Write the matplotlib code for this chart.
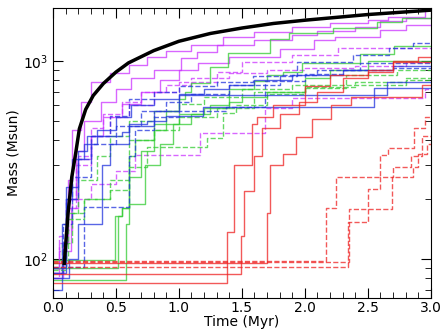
import matplotlib
matplotlib.use("Agg")
import matplotlib.pyplot as plt
from matplotlib.ticker import MultipleLocator

# smooth analytic curve (black)
t_curve = [0.09, 0.12, 0.15, 0.18, 0.21, 0.26, 0.32, 0.4, 0.5, 0.6, 0.8, 1.0, 1.25, 1.5, 1.75, 2.0, 2.5, 3.0]
m_curve = [95, 170, 260, 340, 455, 570, 670, 770, 880, 980, 1130, 1260, 1380, 1470, 1550, 1610, 1720, 1810]

# magenta runs
ms1_t = [0, 0.08, 0.12, 0.15, 0.22, 0.3, 0.45, 0.6, 0.75, 0.9, 1.1, 1.35, 1.6, 1.9, 2.2, 2.5, 2.66, 2.95, 3.0]
ms1_m = [90, 120, 250, 450, 620, 780, 870, 960, 1050, 1120, 1200, 1320, 1400, 1480, 1560, 1620, 1670, 1850, 1850]
ms2_t = [0, 0.08, 0.12, 0.18, 0.25, 0.38, 0.5, 0.62, 0.8, 1.02, 1.14, 1.3, 1.6, 1.9, 2.1, 2.4, 2.6, 2.8, 3.0]
ms2_m = [85, 120, 200, 350, 500, 620, 720, 820, 900, 1035, 1110, 1200, 1280, 1350, 1420, 1480, 1590, 1650, 1650]
ms3_t = [0, 0.08, 0.14, 0.2, 0.3, 0.4, 0.55, 0.7, 0.85, 1.0, 1.15, 1.4, 1.8, 2.07, 2.24, 2.6, 2.8, 3.0]
ms3_m = [80, 110, 180, 320, 420, 520, 610, 700, 800, 900, 977, 1050, 1150, 1276, 1320, 1430, 1520, 1520]
md1_t = [0, 0.05, 0.1, 0.18, 0.3, 0.45, 0.6, 0.8, 1.0, 1.3, 1.5, 1.9, 2.26, 3.0]
md1_m = [90, 130, 180, 300, 420, 520, 600, 700, 780, 880, 990, 1072, 1163, 1163]
md2_t = [0, 0.05, 0.1, 0.15, 0.3, 0.5, 0.65, 1.17, 1.68, 1.9, 2.95, 3.0]
md2_m = [80, 110, 140, 200, 240, 280, 335, 433, 580, 650, 720, 720]
md3_t = [0, 0.05, 0.1, 0.2, 0.3, 0.4, 0.55, 0.7, 0.9, 1.1, 1.4, 1.7, 2.0, 2.4, 2.8, 3.0]
md3_m = [85, 120, 200, 330, 460, 540, 620, 700, 760, 820, 870, 900, 920, 950, 990, 990]

# green runs
gs1_t = [0, 0.52, 0.55, 0.6, 0.7, 0.8, 0.9, 1.0, 1.05, 1.1, 1.25, 1.39, 1.72, 1.87, 2.22, 2.57, 2.77, 3.0]
gs1_m = [90, 164, 180, 260, 350, 450, 560, 640, 700, 775, 930, 1100, 1300, 1385, 1470, 1570, 1650, 1650]
gs2_t = [0, 0.58, 0.6, 0.73, 0.85, 0.95, 1.1, 1.25, 1.4, 1.6, 1.7, 1.83, 1.98, 2.44, 2.71, 3.0]
gs2_m = [78, 150, 190, 300, 380, 480, 540, 600, 720, 790, 850, 880, 976, 1085, 1190, 1190]
gs3_t = [0, 0.49, 0.55, 0.6, 0.65, 0.8, 1.0, 1.2, 1.4, 1.5, 1.7, 2.0, 2.2, 2.5, 3.0]
gs3_m = [99, 164, 180, 330, 400, 480, 540, 580, 620, 660, 700, 820, 900, 1000, 1000]
gd1_t = [0, 0.1, 0.2, 0.35, 0.45, 0.6, 0.8, 1.0, 1.2, 1.5, 1.9, 2.33, 2.73, 3.0]
gd1_m = [88, 170, 250, 330, 420, 500, 560, 610, 660, 720, 757, 850, 900, 900]
gd2_t = [0, 0.12, 0.25, 0.45, 0.6, 0.8, 1.0, 1.3, 1.6, 2.0, 2.33, 2.8, 3.0]
gd2_m = [95, 160, 200, 250, 400, 450, 520, 580, 700, 730, 760, 820, 820]
gd3_t = [0, 0.07, 0.15, 0.25, 0.45, 0.6, 0.75, 1.22, 1.35, 1.45, 1.7, 2.0, 2.4, 2.8, 3.0]
gd3_m = [90, 120, 170, 200, 223, 290, 368, 408, 546, 600, 680, 740, 780, 800, 800]

# blue runs
bs1_t = [0, 0.07, 0.1, 0.2, 0.27, 0.55, 0.6, 0.75, 0.9, 1.19, 2.55, 3.0]
bs1_m = [70, 150, 230, 350, 420, 440, 480, 500, 530, 586, 730, 730]
bs2_t = [0, 0.13, 0.2, 0.39, 0.45, 0.6, 0.8, 1.0, 2.65, 3.0]
bs2_m = [80, 100, 150, 300, 380, 470, 560, 673, 783, 783]
bs3_t = [0, 0.1, 0.15, 0.25, 0.35, 0.5, 0.62, 0.8, 1.0, 1.2, 1.4, 1.6, 1.9, 2.3, 2.7, 3.0]
bs3_m = [85, 200, 320, 380, 450, 520, 600, 640, 680, 720, 760, 800, 850, 900, 950, 950]
bd1_t = [0, 0.1, 0.2, 0.3, 0.45, 0.6, 0.8, 1.0, 1.3, 1.59, 1.94, 2.38, 2.67, 2.86, 3.0]
bd1_m = [90, 200, 320, 420, 530, 640, 700, 750, 780, 840, 990, 1070, 1160, 1230, 1230]
bd2_t = [0, 0.08, 0.15, 0.3, 0.5, 0.7, 0.9, 1.1, 1.4, 1.8, 2.1, 2.44, 3.0]
bd2_m = [85, 150, 260, 380, 470, 560, 620, 680, 760, 850, 900, 976, 976]
bd3_t = [0, 0.25, 0.6, 0.65, 0.8, 1.0, 1.37, 1.68, 2.0, 2.3, 2.7, 3.0]
bd3_m = [91, 183, 330, 450, 520, 560, 586, 795, 860, 900, 920, 920]

# red runs
rs1_t = [0, 1.38, 1.44, 1.58, 1.62, 1.75, 2.0, 2.2, 2.5, 2.7, 2.9, 3.0]
rs1_m = [76, 137, 300, 480, 520, 600, 750, 850, 900, 1000, 1050, 1050]
rs2_t = [0, 1.49, 1.52, 1.6, 1.66, 1.8, 1.95, 2.1, 2.3, 2.5, 2.7, 3.0]
rs2_m = [84, 130, 220, 330, 460, 540, 620, 700, 820, 880, 990, 990]
rs3_t = [0, 1.70, 1.72, 1.83, 1.93, 2.06, 2.21, 2.37, 2.93, 3.0]
rs3_m = [95, 170, 300, 340, 413, 510, 600, 657, 760, 760]
rd1_t = [0, 2.17, 2.25, 2.6, 2.66, 2.87, 2.95, 3.0]
rd1_m = [98, 181, 260, 335, 364, 459, 520, 520]
rd2_t = [0, 2.34, 2.5, 2.6, 2.7, 2.84, 2.93, 3.0]
rd2_m = [91, 154, 226, 260, 292, 330, 420, 420]
rd3_t = [0, 2.35, 2.69, 2.86, 2.9, 2.97, 3.0]
rd3_m = [96, 179, 260, 290, 340, 380, 380]

magenta = '#cc33ff'
green = '#33cc33'
blue = '#2233dd'
red = '#ee2222'

runs = [
    (ms1_t, ms1_m, magenta, '-'), (ms2_t, ms2_m, magenta, '-'), (ms3_t, ms3_m, magenta, '-'),
    (md1_t, md1_m, magenta, '--'), (md2_t, md2_m, magenta, '--'), (md3_t, md3_m, magenta, '--'),
    (gs1_t, gs1_m, green, '-'), (gs2_t, gs2_m, green, '-'), (gs3_t, gs3_m, green, '-'),
    (gd1_t, gd1_m, green, '--'), (gd2_t, gd2_m, green, '--'), (gd3_t, gd3_m, green, '--'),
    (bs1_t, bs1_m, blue, '-'), (bs2_t, bs2_m, blue, '-'), (bs3_t, bs3_m, blue, '-'),
    (bd1_t, bd1_m, blue, '--'), (bd2_t, bd2_m, blue, '--'), (bd3_t, bd3_m, blue, '--'),
    (rs1_t, rs1_m, red, '-'), (rs2_t, rs2_m, red, '-'), (rs3_t, rs3_m, red, '-'),
    (rd1_t, rd1_m, red, '--'), (rd2_t, rd2_m, red, '--'), (rd3_t, rd3_m, red, '--'),
]

fig = plt.figure(figsize=(4.41, 3.31), dpi=100)
ax = fig.add_axes([0.120, 0.0997, 0.857, 0.876])

for t, m, c, ls in runs:
    ax.step(t, m, where='post', color=c, linestyle=ls, linewidth=1.0, alpha=0.75)

ax.plot(t_curve, m_curve, color='black', linewidth=2.5)

ax.set_yscale('log')
ax.set_xlim(0, 3.0)
ax.set_ylim(63.5, 1855)
ax.xaxis.set_major_locator(MultipleLocator(0.5))
ax.xaxis.set_minor_locator(MultipleLocator(0.1))
ax.tick_params(which='both', direction='in', top=True, right=True, labelsize=10)
ax.tick_params(axis='x', which='both', pad=2)
ax.tick_params(which='major', length=7)
ax.tick_params(which='minor', length=4)
ax.set_xlabel('Time (Myr)', fontsize=10, labelpad=0)
ax.set_ylabel('Mass (Msun)', fontsize=10, labelpad=2)

fig.savefig('out.png', dpi=100)
